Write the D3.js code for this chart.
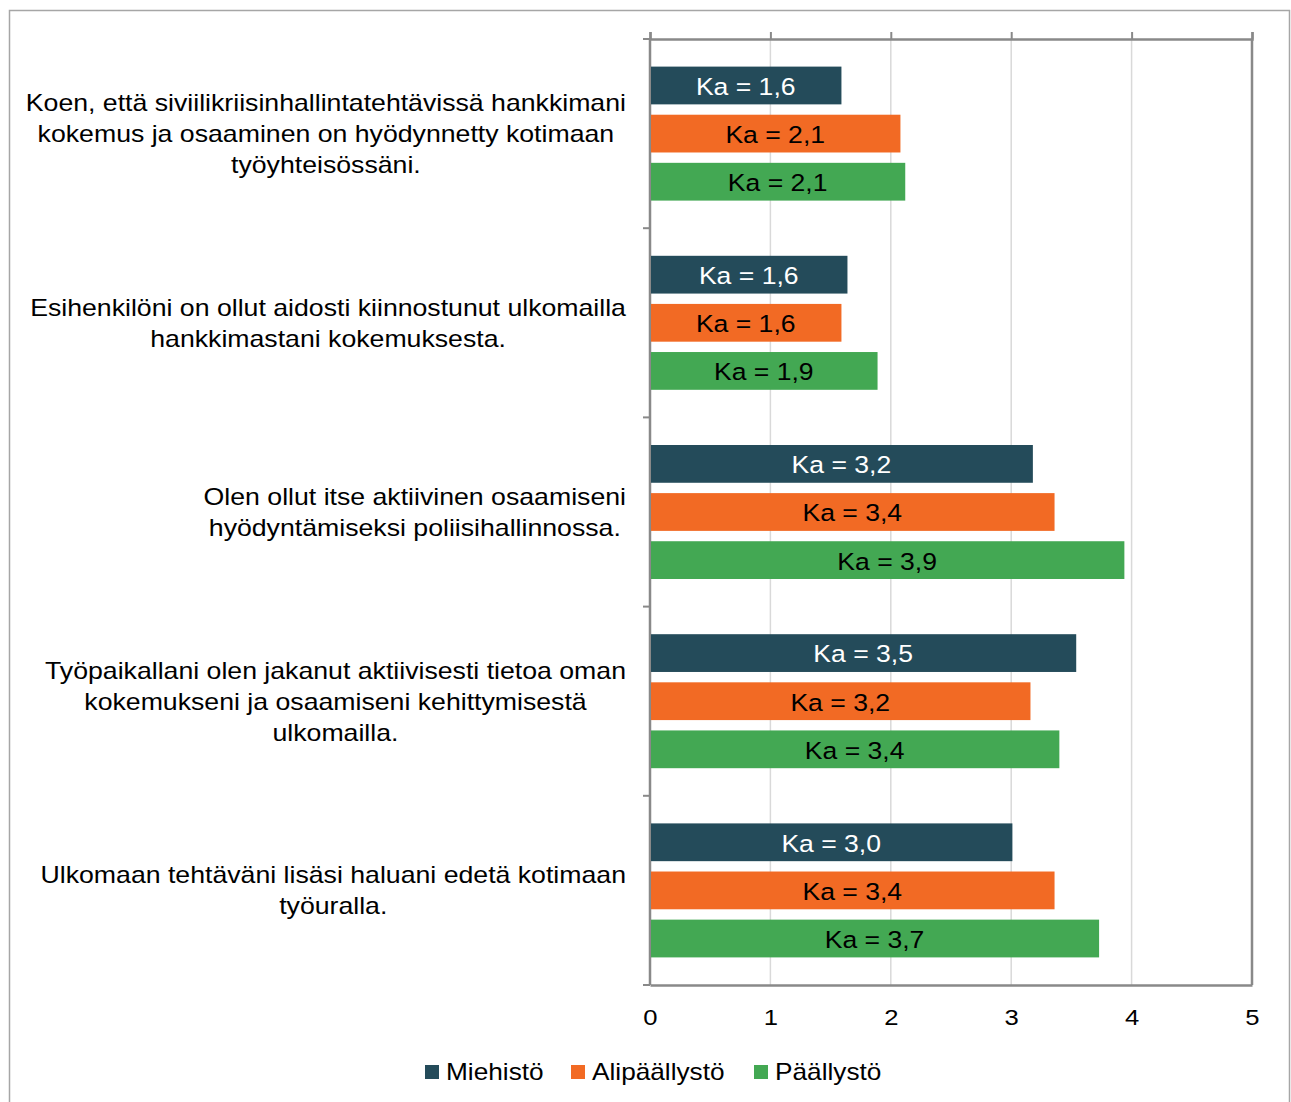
<!DOCTYPE html>
<html><head><meta charset="utf-8">
<script src="https://cdn.jsdelivr.net/npm/d3@7"></script>
<style>body{margin:0;background:#fff}svg{display:block;font-family:"Liberation Sans",Arial,sans-serif}</style>
</head><body>
<script>
const categories = [
  ["Koen, että siviilikriisinhallintatehtävissä hankkimani","kokemus ja osaaminen on hyödynnetty kotimaan","työyhteisössäni."],
  ["Esihenkilöni on ollut aidosti kiinnostunut ulkomailla","hankkimastani kokemuksesta."],
  ["Olen ollut itse aktiivinen osaamiseni","hyödyntämiseksi poliisihallinnossa."],
  ["Työpaikallani olen jakanut aktiivisesti tietoa oman","kokemukseni ja osaamiseni kehittymisestä","ulkomailla."],
  ["Ulkomaan tehtäväni lisäsi haluani edetä kotimaan","työuralla."]
];
const seriesNames = ["Miehistö","Alipäällystö","Päällystö"];
const miehisto     = [1.59, 1.64, 3.18, 3.54, 3.01];
const alipaallysto = [2.08, 1.59, 3.36, 3.16, 3.36];
const paallysto    = [2.12, 1.89, 3.94, 3.40, 3.73];
const colors = ["#244b5a","#f26a24","#43a853"];
const textColors = ["#ffffff","#000000","#000000"];
const xTicks = [0,1,2,3,4,5];

const SX = 1.14; // horizontal stretch of text as in the reference
const W = 1291, H = 1102;
const svg = d3.select("body").append("svg").attr("width",W).attr("height",H);
svg.append("rect").attr("x",9.5).attr("y",10.5).attr("width",1280).attr("height",1100)
  .attr("fill","none").attr("stroke","#a6a6a6").attr("stroke-width",1.5);

const x = d3.scaleLinear().domain([0,5]).range([650,1252]);
const y = d3.scaleBand().domain(d3.range(categories.length)).range([39,985]);
const yi = d3.scaleBand().domain(d3.range(3)).range([27.6, y.bandwidth()-27.6]).paddingInner(0.215);
const values = [miehisto, alipaallysto, paallysto];

function place(sel, fx, fy){
  sel.attr("transform",(d,i)=>`translate(${fx(d,i)},${fy(d,i)}) scale(${SX},1)`);
}

// gridlines
svg.append("g").selectAll("line").data(xTicks.slice(1,-1)).join("line")
  .attr("x1",d=>x(d)).attr("x2",d=>x(d)).attr("y1",39).attr("y2",985)
  .attr("stroke","#d9d9d9").attr("stroke-width",1.5);

// top axis (ticks only)
const topAxis = svg.append("g").attr("transform","translate(0,39)")
  .call(d3.axisTop(x).tickValues(xTicks).tickSize(7).tickFormat(""));
topAxis.select(".domain").attr("stroke","#898989").attr("stroke-width",2.5);
topAxis.selectAll(".tick line").attr("stroke","#898989").attr("stroke-width",2);

// right border
svg.append("line").attr("x1",1252).attr("x2",1252).attr("y1",39).attr("y2",985)
  .attr("stroke","#898989").attr("stroke-width",2.5);

// bottom axis with labels
const botAxis = svg.append("g").attr("transform","translate(0,985)")
  .call(d3.axisBottom(x).tickValues(xTicks).tickSize(0).tickPadding(24).tickFormat(d=>d));
botAxis.select(".domain").attr("stroke","#898989").attr("stroke-width",2.5);
botAxis.selectAll("text").attr("font-size",22.5).attr("fill","#000")
  .attr("font-family","Liberation Sans, Arial, sans-serif")
  .attr("transform",`scale(${SX},1)`);

// left axis
const bounds = d3.range(categories.length+1).map(i=> i<categories.length ? y(i) : y(categories.length-1)+y.bandwidth());
svg.append("g").selectAll("line").data(bounds).join("line")
  .attr("x1",643).attr("x2",650).attr("y1",d=>d).attr("y2",d=>d)
  .attr("stroke","#898989").attr("stroke-width",2);
svg.append("line").attr("x1",650).attr("x2",650).attr("y1",39).attr("y2",985)
  .attr("stroke","#898989").attr("stroke-width",2.5);

// bars
const fmt = v => "Ka = " + v.toFixed(1).replace(".",",");
categories.forEach((c,ci)=>{
  const g = svg.append("g").attr("transform",`translate(0,${y(ci)})`);
  const rows = values.map((s,si)=>({si,v:s[ci]}));
  g.selectAll("rect").data(rows).join("rect")
    .attr("x",x(0)+1).attr("y",d=>yi(d.si)).attr("width",d=>x(d.v)-x(0)-1).attr("height",yi.bandwidth())
    .attr("fill",d=>colors[d.si]);
  const t = g.selectAll("text").data(rows).join("text")
    .attr("dy","0.36em").attr("text-anchor","middle").attr("font-size",23.3)
    .attr("fill",d=>textColors[d.si]).text(d=>fmt(d.v));
  place(t, d=>(x(0)+x(d.v))/2, d=>yi(d.si)+yi.bandwidth()/2+1);
});

// category labels
const lineH = 31;
categories.forEach((lines,ci)=>{
  const cy = y(ci)+y.bandwidth()/2;
  const g = svg.append("g");
  const ts = g.selectAll("text").data(lines).join("text")
    .attr("font-size",23.4).attr("fill","#000").attr("text-anchor","middle")
    .attr("dy","0.36em").text(d=>d);
  let maxW = 0; ts.each(function(){maxW=Math.max(maxW,this.getComputedTextLength());});
  place(ts, ()=>626 - maxW*SX/2, (d,i)=>cy + (i-(lines.length-1)/2)*lineH);
});

// legend
const legendX = [425, 571, 754];
const lg = svg.append("g");
seriesNames.forEach((n,i)=>{
  lg.append("rect").attr("x",legendX[i]).attr("y",1065).attr("width",14).attr("height",14).attr("fill",colors[i]);
  const t = lg.append("text").attr("dy","0.36em").attr("font-size",23).attr("fill","#000").text(n);
  t.attr("transform",`translate(${legendX[i]+21},1072) scale(${SX},1)`);
});
</script>
</body></html>
